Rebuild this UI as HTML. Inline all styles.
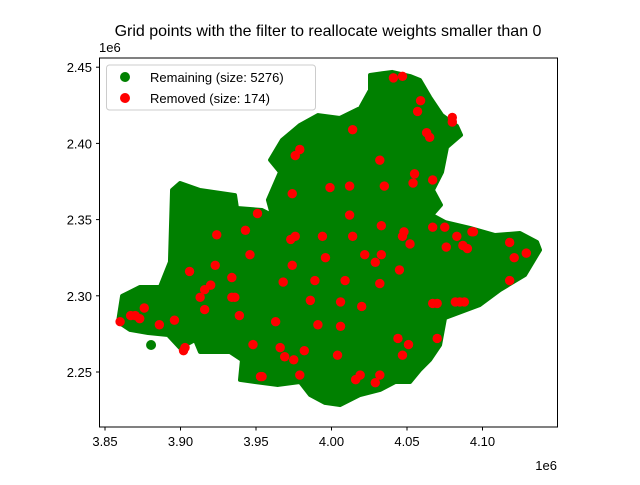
<!DOCTYPE html>
<html><head><meta charset="utf-8"><style>
body{margin:0;background:#fff;}
svg text{font-family:"Liberation Sans","DejaVu Sans",sans-serif;fill:#000;}
</style></head><body>
<svg id="chart" width="640" height="480" viewBox="0 0 640 480" xmlns="http://www.w3.org/2000/svg">
<rect width="640" height="480" fill="#fff"/>
<text x="328" y="36" font-size="16" text-anchor="middle">Grid points with the filter to reallocate weights smaller than 0</text>
<g id="plot"></g>
<rect x="99.5" y="58" width="458" height="369" fill="none" stroke="#000" stroke-width="1"/>
<g id="axes"></g>
<text x="99" y="52" font-size="13">1e6</text>
<text x="557" y="470" font-size="13" text-anchor="end">1e6</text>
<g>
<rect x="106.5" y="65" width="209" height="45" rx="3" fill="#fff" fill-opacity="0.8" stroke="#ccc"/>
<circle cx="125" cy="77" r="5" fill="green"/>
<text x="150" y="82" font-size="13">Remaining (size: 5276)</text>
<circle cx="125" cy="98" r="5" fill="red"/>
<text x="150" y="103" font-size="13">Removed (size: 174)</text>
</g>
</svg>
<script>
const xTicks=[3.85,3.90,3.95,4.00,4.05,4.10];
const xTickLabels=["3.85","3.90","3.95","4.00","4.05","4.10"];
const yTicks=[2.25,2.30,2.35,2.40,2.45];
const yTickLabels=["2.25","2.30","2.35","2.40","2.45"];
// outline of the dense cloud of remaining points (data units, 1e6)
const remainingOutlineX=[3.8586,3.8613,3.8732,3.8864,3.8930,3.8944,3.8997,3.9129,3.9361,3.9374,3.9540,3.9606,3.9579,3.9659,3.9593,3.9672,3.9791,3.9911,4.0056,4.0189,4.0255,4.0255,4.0401,4.0520,4.0586,4.0652,4.0732,4.0831,4.0858,4.0765,4.0732,4.0672,4.0725,4.0666,4.0752,4.0917,4.1083,4.1248,4.1361,4.1381,4.1281,4.1116,4.0983,4.0752,4.0719,4.0652,4.0586,4.0520,4.0421,4.0321,4.0189,4.0056,3.9957,3.9858,3.9791,3.9646,3.9493,3.9394,3.9407,3.9328,3.9129,3.9096,3.8997,3.8917,3.8785,3.8666];
const remainingOutlineY=[2.2828,2.2999,2.3058,2.3058,2.3222,2.3694,2.3740,2.3694,2.3661,2.3576,2.3563,2.3530,2.3629,2.3812,2.3891,2.4022,2.4121,2.4186,2.4167,2.4232,2.4350,2.4449,2.4469,2.4442,2.4416,2.4304,2.4186,2.4114,2.4055,2.3976,2.3812,2.3694,2.3596,2.3530,2.3484,2.3445,2.3399,2.3412,2.3353,2.3301,2.3136,2.3038,2.2940,2.2854,2.2677,2.2579,2.2513,2.2434,2.2434,2.2382,2.2349,2.2283,2.2297,2.2349,2.2434,2.2415,2.2434,2.2448,2.2579,2.2631,2.2631,2.2710,2.2657,2.2743,2.2756,2.2776];
const remainingExtraX=[3.8805];
const remainingExtraY=[2.2677];
const removedX=[3.860,3.867,3.870,3.873,3.876,3.886,3.896,3.903,3.902,3.906,3.913,3.916,3.920,3.916,3.923,3.924,3.934,3.936,3.934,3.939,3.943,3.951,3.946,3.948,3.953,3.954,3.963,3.966,3.968,3.969,3.975,3.973,3.974,3.976,3.976,3.979,3.974,3.979,3.982,3.986,3.989,3.991,3.994,3.996,3.999,4.004,4.006,4.009,4.012,4.014,4.012,4.014,4.006,4.016,4.019,4.020,4.029,4.032,4.032,4.022,4.029,4.033,4.033,4.035,4.032,4.041,4.047,4.059,4.057,4.054,4.052,4.047,4.045,4.044,4.047,4.051,4.048,4.055,4.063,4.065,4.067,4.067,4.067,4.070,4.070,4.075,4.076,4.082,4.085,4.087,4.080,4.083,4.088,4.090,4.093,4.094,4.118,4.121,4.129,4.118,4.080];
const removedY=[2.283,2.287,2.287,2.285,2.292,2.281,2.284,2.266,2.264,2.316,2.299,2.304,2.307,2.291,2.320,2.340,2.312,2.299,2.299,2.287,2.343,2.354,2.327,2.268,2.247,2.247,2.283,2.266,2.309,2.260,2.258,2.337,2.320,2.339,2.392,2.396,2.367,2.248,2.264,2.297,2.310,2.281,2.339,2.325,2.371,2.261,2.296,2.310,2.353,2.409,2.372,2.339,2.280,2.245,2.248,2.293,2.243,2.248,2.308,2.327,2.322,2.327,2.346,2.372,2.389,2.443,2.444,2.428,2.421,2.374,2.334,2.339,2.317,2.272,2.261,2.268,2.342,2.380,2.407,2.404,2.376,2.345,2.295,2.295,2.272,2.345,2.332,2.296,2.296,2.333,2.414,2.339,2.296,2.331,2.342,2.342,2.335,2.325,2.328,2.310,2.417];

const NS="http://www.w3.org/2000/svg";
const X0=105, XS=1510, Y0=372, YS=1524;
function sx(v){return X0+(v-3.85)*XS;}
function sy(v){return Y0-(v-2.25)*YS;}
const plot=document.getElementById('plot');
const axes=document.getElementById('axes');

const clip=document.createElementNS(NS,'clipPath');clip.setAttribute('id','clipAx');
const cr=document.createElementNS(NS,'rect');cr.setAttribute('x',99.5);cr.setAttribute('y',58);cr.setAttribute('width',458);cr.setAttribute('height',369);
clip.appendChild(cr);document.getElementById('chart').appendChild(clip);
plot.setAttribute('clip-path','url(#clipAx)');

const poly=document.createElementNS(NS,'polygon');
poly.setAttribute('points',remainingOutlineX.map((x,i)=>sx(x)+','+sy(remainingOutlineY[i])).join(' '));
poly.setAttribute('fill','green');poly.setAttribute('stroke','green');poly.setAttribute('stroke-width','4');poly.setAttribute('stroke-linejoin','round');


plot.appendChild(poly);
remainingExtraX.forEach((x,i)=>{
  const c=document.createElementNS(NS,'circle');
  c.setAttribute('cx',sx(x));c.setAttribute('cy',sy(remainingExtraY[i]));c.setAttribute('r',5);c.setAttribute('fill','green');
  
  
  plot.appendChild(c);
});
removedX.forEach((x,i)=>{
  const c=document.createElementNS(NS,'circle');
  c.setAttribute('cx',sx(x));c.setAttribute('cy',sy(removedY[i]));c.setAttribute('r',4.7);c.setAttribute('fill','red');
  
  
  plot.appendChild(c);
});
xTicks.forEach((t,i)=>{
  const x=sx(t);
  const l=document.createElementNS(NS,'line');
  l.setAttribute('x1',x);l.setAttribute('x2',x);l.setAttribute('y1',427);l.setAttribute('y2',430.5);l.setAttribute('stroke','#000');
  
  
  axes.appendChild(l);
  const tx=document.createElementNS(NS,'text');
  tx.setAttribute('x',x);tx.setAttribute('y',446);tx.setAttribute('font-size','13');tx.setAttribute('text-anchor','middle');
  tx.textContent=xTickLabels[i];
  
  
  axes.appendChild(tx);
});
yTicks.forEach((t,i)=>{
  const y=sy(t);
  const l=document.createElementNS(NS,'line');
  l.setAttribute('x1',96);l.setAttribute('x2',99.5);l.setAttribute('y1',y);l.setAttribute('y2',y);l.setAttribute('stroke','#000');
  
  
  axes.appendChild(l);
  const tx=document.createElementNS(NS,'text');
  tx.setAttribute('x',92);tx.setAttribute('y',y+5);tx.setAttribute('font-size','13');tx.setAttribute('text-anchor','end');
  tx.textContent=yTickLabels[i];
  
  
  axes.appendChild(tx);
});
</script>
</body></html>
